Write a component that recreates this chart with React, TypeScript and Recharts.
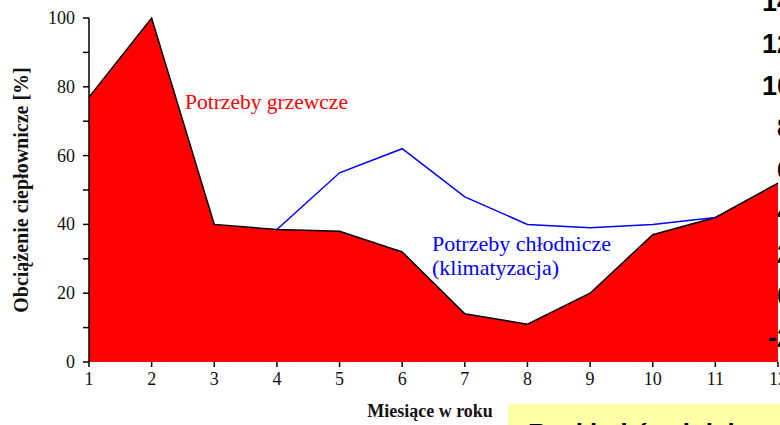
import React from 'react';
import { ComposedChart, Area, Line, XAxis, YAxis } from 'recharts';

// months of the year and relative heat load [%]
const months = [1, 2, 3, 4, 5, 6, 7, 8, 9, 10, 11, 12];
const heating = [77, 100, 40, 38.5, 38, 32, 14, 11, 20, 37, 42, 52];
const cooling = [null, null, null, 38.5, 55, 62, 48, 40, 39, 40, 42, null];
const yTicks = [0, 10, 20, 30, 40, 50, 60, 70, 80, 90, 100];
// axis of the neighbouring chart, cut off at the right edge
const sideTicks = ['14', '12', '10', '8', '6', '4', '2', '0', '-2'];

const data = months.map((m, i) => ({ month: m, heating: heating[i], cooling: cooling[i] }));

const serif = '"Liberation Serif", "Times New Roman", serif';
const sans = '"Liberation Sans", Arial, sans-serif';

const YTick = (props: any) => {
    const { x, y, payload } = props;
    if (payload.value % 20 !== 0) return null;
    return (
        <text x={x} y={y} dy={6} textAnchor="end" fontFamily={serif} fontSize={18} fill="#111">
            {payload.value}
        </text>
    );
};

const XTick = (props: any) => {
    const { x, y, payload } = props;
    return (
        <text x={x} y={y} dy={14} textAnchor="middle" fontFamily={serif} fontSize={18} fill="#111">
            {payload.value}
        </text>
    );
};

export default function App() {
    return (
        <div style={{ position: 'absolute', left: 0, top: 0, width: 780, height: 425, overflow: 'hidden', background: '#fff' }}>
            <ComposedChart width={810} height={425} data={data} margin={{ top: 18, right: 32, bottom: 0, left: 0 }}>
                <XAxis
                    dataKey="month"
                    type="number"
                    domain={[1, 12]}
                    ticks={months}
                    axisLine={false}
                    tickLine={{ stroke: '#000', strokeWidth: 1.5 }}
                    tickSize={5}
                    tickMargin={4}
                    height={63}
                    tick={<XTick />}
                />
                <YAxis
                    domain={[0, 100]}
                    ticks={yTicks}
                    width={89}
                    axisLine={{ stroke: '#000', strokeWidth: 1.5 }}
                    tickLine={{ stroke: '#000', strokeWidth: 1.5 }}
                    tickSize={6}
                    tickMargin={8}
                    tick={<YTick />}
                />
                <Area
                    type="linear"
                    dataKey="heating"
                    fill="#ff0000"
                    fillOpacity={1}
                    stroke="#000"
                    strokeWidth={1.5}
                    isAnimationActive={false}
                />
                <Line
                    type="linear"
                    dataKey="cooling"
                    stroke="#0000ff"
                    strokeWidth={1.5}
                    dot={false}
                    isAnimationActive={false}
                />
            </ComposedChart>

            <svg width={780} height={425} style={{ position: 'absolute', left: 0, top: 0, pointerEvents: 'none' }}>
                <text transform="translate(28,190) rotate(-90)" textAnchor="middle" fontFamily={serif} fontWeight="bold" fontSize={20} fill="#111">
                    Obciążenie ciepłownicze [%]
                </text>
                <text x={430} y={417} textAnchor="middle" fontFamily={serif} fontWeight="bold" fontSize={18} fill="#111">
                    Miesiące w roku
                </text>
                <text x={185} y={109} fontFamily={serif} fontSize={21.5} fill="#ff0000">Potrzeby grzewcze</text>
                <text x={432} y={251} fontFamily={serif} fontSize={22} fill="#0000ff">Potrzeby chłodnicze</text>
                <text x={432} y={275} fontFamily={serif} fontSize={22} fill="#0000ff">(klimatyzacja)</text>
                {sideTicks.map((t, i) => (
                    <text key={t} x={792} y={11 + i * 42} textAnchor="end" fontFamily={sans} fontWeight="bold" fontSize={27} fill="#000">
                        {t}
                    </text>
                ))}
                <rect x={508} y={404} width={272} height={21} fill="#ffffa8" />
                <text x={528} y={442} fontFamily={sans} fontWeight="bold" fontSize={26} fill="#000">Rozkład średnich</text>
            </svg>
        </div>
    );
}
